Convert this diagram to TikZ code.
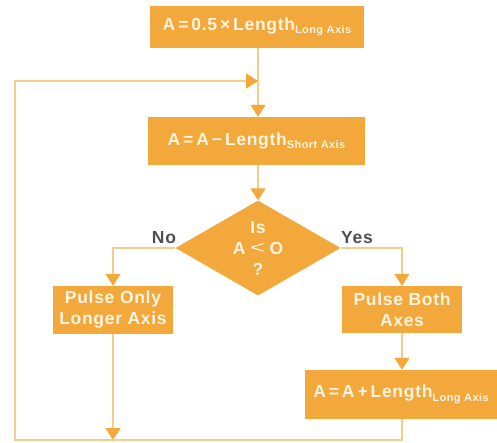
\documentclass[tikz,border=0pt]{standalone}
\usepackage{fontspec}
\setmainfont{Liberation Sans}[LetterSpace=4]
\usetikzlibrary{arrows.meta,shapes.geometric}
\definecolor{boxor}{HTML}{F2A83A}
\definecolor{lineor}{HTML}{F6CB8E}
\definecolor{labgray}{HTML}{4F4F4F}
\definecolor{txtc}{HTML}{FFF4E2}
\newcommand{\sublbl}[1]{\raisebox{-3.5pt}{\fontsize{11}{11}\selectfont #1}}
\newcommand{\thinless}{\raisebox{1pt}{\scalebox{1.45}[1]{\fontsize{17}{17}\selectfont\mdseries <}}}
\begin{document}
\begin{tikzpicture}[x=1pt,y=-1pt,
  font=\bfseries\fontsize{17.5}{21}\selectfont,
  procbox/.style={fill=boxor, text=txtc, inner sep=0pt, align=center},
  decision/.style={diamond, fill=boxor, text=txtc, inner sep=0pt, aspect=1.74, align=center},
  flow/.style={draw=lineor, line width=1.8pt,
    -{Triangle[width=15pt,length=12pt,fill=boxor,color=boxor]}},
  lbl/.style={text=labgray, inner sep=0pt}]
\useasboundingbox (0,0) rectangle (497,442);

% process boxes
\node[procbox, minimum width=214pt, minimum height=42pt] (init) at (257,27)
  {A\,=\,0.5\,×\,Length\sublbl{Long Axis}};
\node[procbox, minimum width=217pt, minimum height=48pt] (sub) at (256.5,141)
  {A\,=\,A\,−\,Length\sublbl{Short Axis}};
\node[decision, minimum width=165pt, minimum height=95pt] (test) at (258,248)
  {Is\\A\;\thinless\;O\\?};
\node[procbox, minimum width=120pt, minimum height=48pt] (longer) at (113,310)
  {Pulse Only\\Longer Axis};
\node[procbox, minimum width=120pt, minimum height=47pt] (both) at (402,309.5)
  {Pulse Both\\Axes};
\node[procbox, minimum width=192pt, minimum height=49pt] (add) at (401,394.5)
  {A\,=\,A\,+\,Length\sublbl{Long Axis}};

% branch labels
\node[lbl] (no) at (164,238) {No};
\node[lbl] (yes) at (357,238) {Yes};

% loop corners
\coordinate (join) at (258,81);
\coordinate (topleft) at (15,81);
\coordinate (botleft) at (15,440);
\coordinate (botright) at (402,440);
\coordinate (botmid) at (113,440);

% connectors
\draw[flow] (init.south -| join) -- (sub.north -| join);
\draw[flow] (sub.south -| test.north) -- (test.north);
\draw[flow] (test.west) -| (longer.north);
\draw[flow] (test.east) -| (both.north);
\draw[flow] (both.south) -- (both.south |- add.north);
\draw[flow] (longer.south) -- (botmid);
\draw[flow] (add.south -| botright) -- (botright) -- (botleft) -- (topleft) -- (join);
\end{tikzpicture}
\end{document}
